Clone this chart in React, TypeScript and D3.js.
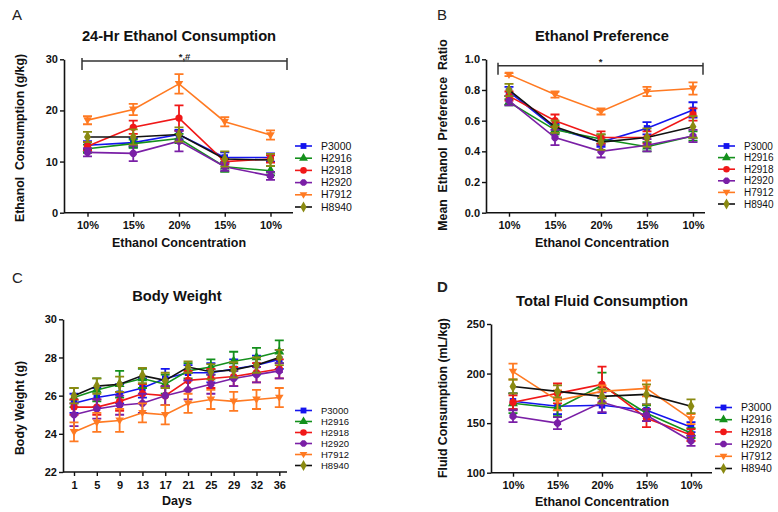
import { useEffect, useRef } from "react";
import * as d3 from "d3";

const groups = ["P3000", "H2916", "H2918", "H2920", "H7912", "H8940"];
const markerColors = ["#1414ee", "#14901c", "#f01818", "#7a1fa6", "#ff7a22", "#8a8a12"];
const lineColors = ["#1414ee", "#14901c", "#f01818", "#7a1fa6", "#ff7a22", "#111111"];
const markerShapes = ["square", "triangle", "circle", "octagon", "triangleDown", "diamond"];

const concLabels = ["10%", "15%", "20%", "15%", "10%"];
const dayLabels = ["1", "5", "9", "13", "17", "21", "25", "29", "32", "36"];

// A - 24 hr ethanol consumption (g/kg)
const consumptionMean = [
  [13.2, 13.7, 15.3, 10.8, 10.8],
  [12.5, 13.5, 14.5, 9.0, 8.2],
  [13.0, 16.7, 18.5, 10.0, 10.5],
  [11.8, 11.6, 14.0, 9.0, 7.2],
  [18.1, 20.2, 25.2, 17.8, 15.2],
  [14.8, 14.8, 15.3, 10.5, 10.3],
];
const consumptionErr = [
  [0.8, 0.9, 0.9, 1.0, 0.8],
  [0.8, 0.8, 0.9, 1.0, 0.9],
  [0.8, 1.3, 2.5, 0.5, 0.7],
  [0.8, 1.5, 2.0, 0.8, 0.8],
  [0.8, 1.1, 1.9, 0.9, 0.9],
  [1.0, 1.5, 1.4, 1.5, 1.2],
];

// B - preference ratio
const preferenceMean = [
  [0.79, 0.55, 0.46, 0.55, 0.67],
  [0.72, 0.54, 0.48, 0.43, 0.5],
  [0.76, 0.6, 0.49, 0.49, 0.64],
  [0.73, 0.49, 0.4, 0.44, 0.5],
  [0.9, 0.77, 0.66, 0.79, 0.81],
  [0.8, 0.56, 0.46, 0.49, 0.56],
];
const preferenceErr = [
  [0.03, 0.03, 0.03, 0.04, 0.05],
  [0.02, 0.03, 0.03, 0.03, 0.03],
  [0.03, 0.04, 0.04, 0.04, 0.04],
  [0.03, 0.05, 0.04, 0.04, 0.04],
  [0.01, 0.02, 0.02, 0.03, 0.04],
  [0.04, 0.04, 0.05, 0.06, 0.07],
];

// C - body weight (g)
const weightMean = [
  [25.6, 25.9, 26.1, 26.4, 26.9, 27.2, 27.2, 27.4, 27.6, 27.9],
  [25.9, 26.3, 26.6, 26.9, 26.6, 27.3, 27.5, 27.8, 28.0, 28.3],
  [25.4, 25.4, 25.7, 26.1, 26.0, 26.8, 26.9, 27.0, 27.2, 27.4],
  [25.0, 25.3, 25.5, 25.6, 26.0, 26.3, 26.6, 26.9, 27.1, 27.3],
  [24.1, 24.6, 24.7, 25.1, 25.0, 25.6, 25.8, 25.7, 25.8, 25.9],
  [26.0, 26.5, 26.6, 27.05, 26.8, 27.5, 27.25, 27.35, 27.6, 28.0],
];
const weightErr = [
  [0.5, 0.5, 0.5, 0.5, 0.5, 0.4, 0.5, 0.5, 0.5, 0.5],
  [0.5, 0.6, 0.7, 0.5, 0.5, 0.4, 0.4, 0.5, 0.5, 0.6],
  [0.4, 0.4, 0.5, 0.5, 0.5, 0.5, 0.5, 0.5, 0.5, 0.5],
  [0.6, 0.5, 0.5, 0.5, 0.5, 0.5, 0.5, 0.4, 0.4, 0.4],
  [0.5, 0.5, 0.6, 0.5, 0.5, 0.5, 0.5, 0.5, 0.5, 0.5],
  [0.4, 0.4, 0.4, 0.4, 0.4, 0.3, 0.4, 0.4, 0.4, 0.4],
];

// D - total fluid (mL/kg)
const fluidMean = [
  [172, 167, 168, 163, 146],
  [170, 165, 188, 160, 140],
  [171, 180, 189, 155, 138],
  [157, 150, 171, 158, 132],
  [202, 173, 182, 185, 154],
  [187, 182, 177, 179, 167],
];
const fluidErr = [
  [8, 8, 8, 6, 5],
  [10, 8, 13, 8, 5],
  [7, 10, 18, 9, 6],
  [6, 6, 10, 6, 5],
  [8, 10, 6, 8, 5],
  [7, 6, 7, 10, 7],
];

const FONT = "'Liberation Sans', Arial, sans-serif";

const octagon = {
  draw(ctx, size) {
    const r = Math.sqrt(size) * 0.6;
    for (let i = 0; i < 8; i++) {
      const a = Math.PI / 8 + (i * Math.PI) / 4;
      const px = r * Math.cos(a), py = r * Math.sin(a);
      i === 0 ? ctx.moveTo(px, py) : ctx.lineTo(px, py);
    }
    ctx.closePath();
  },
};
const triangleDown = {
  draw(ctx, size) {
    const h = Math.sqrt(size) * 1.1;
    ctx.moveTo(-h * 0.6, -h * 0.4);
    ctx.lineTo(h * 0.6, -h * 0.4);
    ctx.lineTo(0, h * 0.6);
    ctx.closePath();
  },
};
const symbolFor = (name) =>
  ({
    square: d3.symbolSquare,
    triangle: d3.symbolTriangle,
    circle: d3.symbolCircle,
    octagon: octagon,
    triangleDown: triangleDown,
    diamond: d3.symbolDiamond,
  })[name];

function drawPanel(svg, cfg) {
  const g = svg.append("g");
  const idx = d3.range(cfg.labels.length);
  const x = d3.scalePoint().domain(idx).range([cfg.px0, cfg.px1]);
  const y = d3.scaleLinear().domain(cfg.domain).range([cfg.yBot, cfg.yTop]);

  // y axis
  const ya = g
    .append("g")
    .attr("transform", `translate(${cfg.ox},0)`)
    .call(
      d3.axisLeft(y).tickValues(cfg.yTicks).tickFormat(cfg.yFormat).tickSize(4).tickSizeOuter(0).tickPadding(2)
    );
  ya.select(".domain").attr("stroke", "#111").attr("stroke-width", 1.6);
  ya.selectAll(".tick line").attr("stroke", "#111").attr("stroke-width", 1.4);
  ya.selectAll("text").attr("font-family", FONT).attr("font-weight", "bold").attr("font-size", 11).attr("fill", "#111");

  // x axis
  g.append("line")
    .attr("x1", cfg.ox).attr("x2", cfg.ax1)
    .attr("y1", cfg.yBot).attr("y2", cfg.yBot)
    .attr("stroke", "#111").attr("stroke-width", 1.6);
  const xa = g
    .append("g")
    .attr("transform", `translate(0,${cfg.yBot})`)
    .call(d3.axisBottom(x).tickFormat((i) => cfg.labels[i]).tickSize(4).tickPadding(5));
  xa.select(".domain").remove();
  xa.selectAll(".tick line").attr("stroke", "#111").attr("stroke-width", 1.4);
  xa.selectAll("text").attr("font-family", FONT).attr("font-weight", "bold").attr("font-size", 11).attr("fill", "#111");

  // titles
  g.append("text")
    .attr("x", cfg.titleX).attr("y", cfg.titleY)
    .attr("text-anchor", "middle")
    .attr("font-family", FONT).attr("font-weight", "bold").attr("font-size", 14.7).attr("fill", "#111")
    .text(cfg.title);
  g.append("text")
    .attr("x", cfg.titleX).attr("y", cfg.xTitleY)
    .attr("text-anchor", "middle")
    .attr("font-family", FONT).attr("font-weight", "bold").attr("font-size", 12.5).attr("fill", "#111")
    .text(cfg.xTitle);
  g.append("text")
    .attr("transform", `translate(${cfg.yTitleX},${cfg.yTitleY}) rotate(-90)`)
    .attr("text-anchor", "middle")
    .attr("font-family", FONT).attr("font-weight", "bold").attr("font-size", 12.3).attr("fill", "#111")
    .style("white-space", "pre")
    .text(cfg.yTitle);
  g.append("text")
    .attr("x", cfg.letterX).attr("y", cfg.letterY)
    .attr("font-family", FONT).attr("font-weight", cfg.letterBold ? "bold" : "normal")
    .attr("font-size", 15).attr("fill", "#222")
    .text(cfg.letter);

  // significance bracket
  if (cfg.sig) {
    const s = cfg.sig;
    g.append("path")
      .attr("d", `M${s.x0},${s.y - 3}V${s.y + 9}M${s.x0},${s.y}H${s.x1}M${s.x1},${s.y - 3}V${s.y + 9}`)
      .attr("fill", "none").attr("stroke", "#333").attr("stroke-width", 1.5);
    g.append("text")
      .attr("x", (s.x0 + s.x1) / 2).attr("y", s.y - 1)
      .attr("text-anchor", "middle")
      .attr("font-family", FONT).attr("font-size", 9.5).attr("font-weight", "bold").attr("fill", "#222")
      .text(s.text);
  }

  // series
  groups.forEach((name, gi) => {
    const mean = cfg.mean[gi];
    const err = cfg.err[gi];
    const sg = g.append("g");
    sg.selectAll(".eb")
      .data(idx)
      .enter()
      .append("path")
      .attr("d", (i) => {
        const cx = x(i), t = y(mean[i] + err[i]), b = y(mean[i] - err[i]);
        return `M${cx - 4.5},${t}H${cx + 4.5}M${cx},${t}V${b}M${cx - 4.5},${b}H${cx + 4.5}`;
      })
      .attr("fill", "none").attr("stroke", markerColors[gi]).attr("stroke-width", 1.8);
    sg.append("path")
      .datum(idx)
      .attr("d", d3.line().x((i) => x(i)).y((i) => y(mean[i])))
      .attr("fill", "none").attr("stroke", lineColors[gi]).attr("stroke-width", 1.6);
    sg.selectAll(".mk")
      .data(idx)
      .enter()
      .append("path")
      .attr("transform", (i) => `translate(${x(i)},${y(mean[i])})`)
      .attr("d", d3.symbol().type(symbolFor(markerShapes[gi])).size(42))
      .attr("fill", markerColors[gi]);

    // legend row
    const ly = cfg.legY + gi * cfg.legStep;
    g.append("line")
      .attr("x1", cfg.legX).attr("x2", cfg.legX + 17)
      .attr("y1", ly).attr("y2", ly)
      .attr("stroke", lineColors[gi]).attr("stroke-width", 1.6);
    g.append("path")
      .attr("transform", `translate(${cfg.legX + 8.5},${ly})`)
      .attr("d", d3.symbol().type(symbolFor(markerShapes[gi])).size(34))
      .attr("fill", markerColors[gi]);
    g.append("text")
      .attr("x", cfg.legX + 26).attr("y", ly).attr("dy", "0.35em")
      .attr("font-family", FONT).attr("font-size", cfg.legFont).attr("fill", "#111")
      .text(name);
  });
}

const App = () => {
  const svgRef = useRef();

  useEffect(() => {
    const svg = d3.select(svgRef.current);
    svg.selectAll("*").remove();

    drawPanel(svg, {
      letter: "A", letterX: 12, letterY: 20,
      title: "24-Hr Ethanol Consumption", titleX: 179, titleY: 41,
      xTitle: "Ethanol Concentration", xTitleY: 247,
      yTitle: "Ethanol  Consumption (g/kg)", yTitleX: 24, yTitleY: 138,
      labels: concLabels, ox: 64, ax1: 293, px0: 87.5, px1: 270.5,
      yTop: 59.3, yBot: 212.7, domain: [0, 30], yTicks: [0, 10, 20, 30], yFormat: d3.format("d"),
      mean: consumptionMean, err: consumptionErr,
      legX: 295, legY: 146, legStep: 12.2, legFont: 10.5,
      sig: { x0: 82, x1: 287, y: 61, text: "*,#" },
    });

    drawPanel(svg, {
      letter: "B", letterX: 437, letterY: 20,
      title: "Ethanol Preference", titleX: 602, titleY: 41,
      xTitle: "Ethanol Concentration", xTitleY: 247,
      yTitle: "Mean  Ethanol  Preference  Ratio", yTitleX: 447, yTitleY: 135,
      labels: concLabels, ox: 486, ax1: 705, px0: 509, px1: 693,
      yTop: 59.3, yBot: 212.7, domain: [0, 1], yTicks: [0, 0.2, 0.4, 0.6, 0.8, 1.0], yFormat: d3.format(".1f"),
      mean: preferenceMean, err: preferenceErr,
      legX: 718, legY: 146, legStep: 11.6, legFont: 10,
      sig: { x0: 498, x1: 703, y: 65.7, text: "*" },
    });

    drawPanel(svg, {
      letter: "C", letterX: 12, letterY: 283,
      title: "Body Weight", titleX: 177, titleY: 301,
      xTitle: "Days", xTitleY: 505,
      yTitle: "Body Weight (g)", yTitleX: 24, yTitleY: 408,
      labels: dayLabels, ox: 63, ax1: 287, px0: 74, px1: 279.3,
      yTop: 319.3, yBot: 472, domain: [22, 30], yTicks: [22, 24, 26, 28, 30], yFormat: d3.format("d"),
      mean: weightMean, err: weightErr,
      legX: 295, legY: 410.5, legStep: 11, legFont: 9.5,
    });

    drawPanel(svg, {
      letter: "D", letterBold: true, letterX: 437, letterY: 292,
      title: "Total Fluid Consumption", titleX: 602, titleY: 306,
      xTitle: "Ethanol Concentration", xTitleY: 506,
      yTitle: "Fluid Consumption (mL/kg)", yTitleX: 447, yTitleY: 398,
      labels: concLabels, ox: 491, ax1: 712, px0: 513, px1: 691,
      yTop: 324, yBot: 472.7, domain: [100, 250], yTicks: [100, 150, 200, 250], yFormat: d3.format("d"),
      mean: fluidMean, err: fluidErr,
      legX: 715, legY: 407.5, legStep: 12.2, legFont: 10.5,
    });
  }, []);

  return (
    <svg
      ref={svgRef}
      width={778}
      height={512}
      style={{ position: "absolute", left: 0, top: 0, background: "#fff" }}
    />
  );
};

export default App;
